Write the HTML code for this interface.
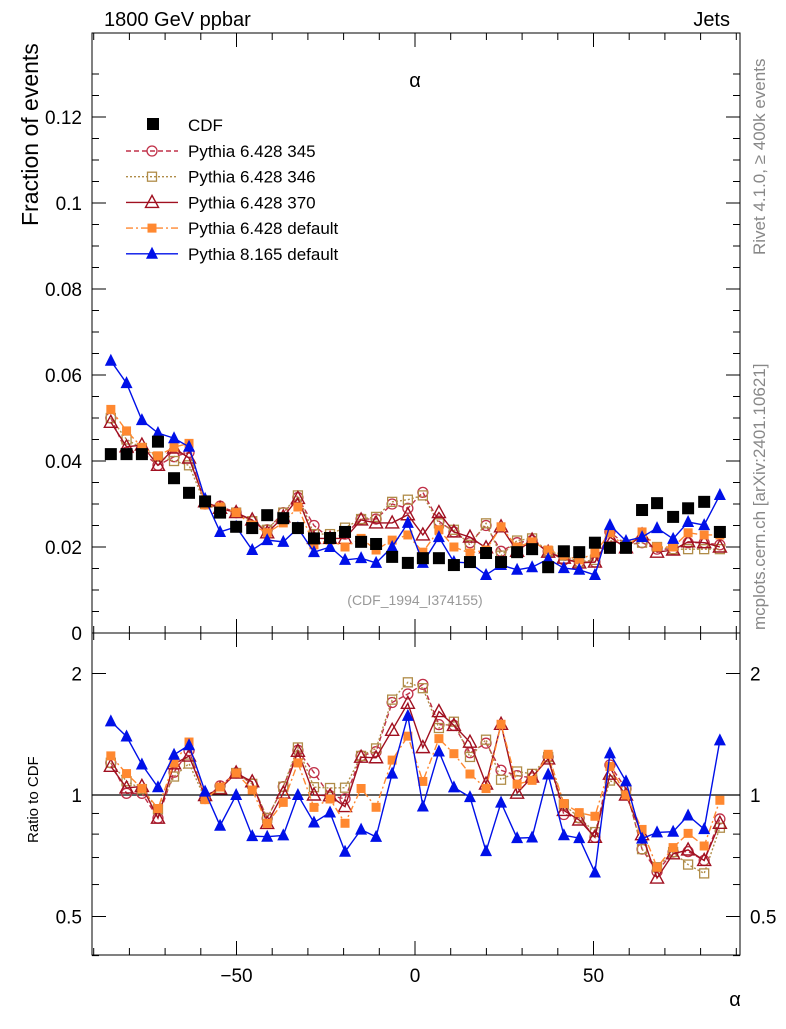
<!DOCTYPE html>
<html><head><meta charset="utf-8"><style>
body{margin:0;background:#fff;}
svg text{font-family:"Liberation Sans",sans-serif;}
</style></head><body>
<svg id="chart" width="786" height="1024" xmlns="http://www.w3.org/2000/svg">
<g id="main"></g>
</svg>
<script>
const alpha = [-85.2,-80.8,-76.5,-72.0,-67.5,-63.3,-58.8,-54.6,-50.1,-45.6,-41.4,-36.9,-32.8,-28.3,-23.8,-19.6,-15.1,-10.9,-6.4,-2.0,2.2,6.7,10.9,15.4,19.9,24.1,28.6,32.8,37.3,41.7,46.0,50.4,54.6,59.1,63.6,67.8,72.3,76.5,81.0,85.4];
const cdf = [0.0416,0.0416,0.0416,0.0445,0.036,0.0326,0.0306,0.028,0.0247,0.0244,0.0274,0.0267,0.0244,0.022,0.0221,0.0235,0.0212,0.0207,0.0177,0.0163,0.0174,0.0174,0.0158,0.0165,0.0186,0.0165,0.0188,0.0195,0.0153,0.019,0.0188,0.021,0.0198,0.0198,0.0286,0.0302,0.027,0.029,0.0305,0.0235];
const py345 = [0.050,0.042,0.042,0.039,0.041,0.042,0.030,0.0295,0.028,0.026,0.024,0.028,0.0315,0.025,0.022,0.023,0.0265,0.0265,0.030,0.029,0.0327,0.026,0.0235,0.021,0.025,0.019,0.021,0.0215,0.019,0.017,0.0165,0.0165,0.0235,0.0205,0.021,0.0195,0.0195,0.021,0.021,0.0205];
const py346 = [0.050,0.045,0.043,0.041,0.040,0.039,0.030,0.029,0.028,0.026,0.024,0.028,0.032,0.023,0.023,0.0245,0.0265,0.027,0.0305,0.031,0.032,0.0255,0.024,0.0205,0.0255,0.018,0.0215,0.022,0.019,0.018,0.0165,0.017,0.0215,0.0205,0.021,0.02,0.0195,0.0195,0.0195,0.0195];
const py370 = [0.049,0.0433,0.0437,0.039,0.043,0.0407,0.0305,0.029,0.028,0.0263,0.0233,0.027,0.0313,0.022,0.022,0.022,0.0263,0.0256,0.0256,0.0275,0.0228,0.028,0.0235,0.0223,0.0198,0.0247,0.019,0.0216,0.0188,0.0174,0.0163,0.0165,0.0223,0.0198,0.0228,0.0188,0.0193,0.0212,0.021,0.020];
const pydef = [0.052,0.047,0.0432,0.0412,0.0432,0.0441,0.0298,0.0293,0.028,0.0251,0.0233,0.0256,0.0293,0.0205,0.0216,0.020,0.022,0.0193,0.0216,0.0228,0.0188,0.024,0.020,0.0186,0.0193,0.0247,0.020,0.0212,0.0193,0.0181,0.017,0.0186,0.0233,0.0198,0.0235,0.020,0.020,0.0233,0.0228,0.0228];
const py8 = [0.0633,0.0581,0.0495,0.0465,0.0453,0.0433,0.0312,0.0235,0.0247,0.0193,0.0216,0.0212,0.0244,0.0188,0.020,0.017,0.0174,0.0163,0.020,0.0256,0.0163,0.0223,0.0165,0.0163,0.0135,0.0158,0.0147,0.0153,0.0172,0.0151,0.0147,0.0135,0.0251,0.0214,0.0223,0.0244,0.0219,0.0258,0.0251,0.0321];
const mainTicks = [0,0.02,0.04,0.06,0.08,0.1,0.12];
const mainTickLabels = ["0","0.02","0.04","0.06","0.08","0.1","0.12"];
const xTicks = [-50,0,50];
const xTickLabels = ["\u221250","0","50"];
const ratioTicks = [0.5,1,2];
const ratioTickLabels = ["0.5","1","2"];

const NS="http://www.w3.org/2000/svg";
const svg=document.getElementById('chart');
const L=92,R=740,T=33,MB=633,RB=955;
const xs=a=>415+a*3.57;
const ym=v=>633-v*4300;
const yr=r=>795-121.5*Math.log2(r);
function mk(tag,attrs,parent){const e=document.createElementNS(NS,tag);for(const k in attrs)e.setAttribute(k,attrs[k]);(parent||svg).appendChild(e);return e;}
function txt(s,x,y,size,anchor,fill,parent,rot){const t=mk('text',{x:x,y:y,'font-size':size,'text-anchor':anchor||'start',fill:fill||'#000'},parent);if(rot)t.setAttribute('transform','rotate(-90 '+x+' '+y+')');t.textContent=s;return t;}

const f1=mk('rect',{x:L,y:T,width:R-L,height:MB-T,fill:'none',stroke:'#000','stroke-width':1});


const f2=mk('rect',{x:L,y:MB,width:R-L,height:RB-MB,fill:'none',stroke:'#000','stroke-width':1});



for(let v=0;v<=0.135;v+=0.005){const y=ym(v);const major=Math.abs(v/0.02-Math.round(v/0.02))<1e-6;const l=major?14:7;
 mk('line',{x1:L,y1:y,x2:L+l,y2:y,stroke:'#000'});mk('line',{x1:R,y1:y,x2:R-l,y2:y,stroke:'#000'});}
mainTicks.forEach((v,i)=>{const t=txt(mainTickLabels[i],82,ym(v)+7,19,'end');
 
 });
for(let a=-90;a<=90;a+=10){const x=xs(a);const major=a%50===0;const l=major?14:7;
 [[T,1],[MB,-1],[MB,1],[RB,-1]].forEach(([y0,d])=>mk('line',{x1:x,y1:y0,x2:x,y2:y0+d*l,stroke:'#000'}));}
xTicks.forEach((a,i)=>{const t=txt(xTickLabels[i],xs(a),982,19,'middle');
 
 });
[0.4,0.5,0.6,0.7,0.8,0.9,1,2].forEach(r=>{const y=yr(r);const l=(r===0.5||r===1||r===2)?14:7;
 mk('line',{x1:L,y1:y,x2:L+l,y2:y,stroke:'#000'});mk('line',{x1:R,y1:y,x2:R-l,y2:y,stroke:'#000'});});
ratioTicks.forEach((r,i)=>{const a=txt(ratioTickLabels[i],82,yr(r)+7,19,'end');
 
 
 const b=txt(ratioTickLabels[i],750,yr(r)+7,19,'start');
 
 });
mk('line',{x1:L,y1:yr(1),x2:R,y2:yr(1),stroke:'#000','stroke-width':1.3});

function marker(kind,x,y,col,g,s){
 s=s||5;
 if(kind==='sq') return mk('rect',{x:x-s,y:y-s,width:2*s,height:2*s,fill:col},g);
 if(kind==='osq') return mk('rect',{x:x-4.5,y:y-4.5,width:9,height:9,fill:'none',stroke:col,'stroke-width':1.3},g);
 if(kind==='oc') return mk('circle',{cx:x,cy:y,r:5,fill:'none',stroke:col,'stroke-width':1.3},g);
 if(kind==='otri') return mk('polygon',{points:`${x},${y-7} ${x-6.5},${y+5} ${x+6.5},${y+5}`,fill:'none',stroke:col,'stroke-width':1.4},g);
 if(kind==='tri') return mk('polygon',{points:`${x},${y-7} ${x-6},${y+5} ${x+6},${y+5}`,fill:col},g);
}
const series=[
 {name:'pythia-6428-345',vals:py345,col:'#c03048',dash:'5,3',m:'oc'},
 {name:'pythia-6428-346',vals:py346,col:'#b08c48',dash:'2,2',m:'osq'},
 {name:'pythia-6428-370',vals:py370,col:'#a01020',dash:'',m:'otri'},
 {name:'pythia-6428-default',vals:pydef,col:'#ff8830',dash:'7,3,2,3',m:'sq'},
 {name:'pythia-8165-default',vals:py8,col:'#0010e8',dash:'',m:'tri'}
];
const clip=mk('clipPath',{id:'rc'});mk('rect',{x:L,y:MB,width:R-L,height:RB-MB},clip);
series.forEach(s=>{
 const g=mk('g',{});
 
 
 const pts=alpha.map((a,i)=>xs(a)+','+ym(s.vals[i])).join(' ');
 mk('polyline',{points:pts,fill:'none',stroke:s.col,'stroke-width':1.4,'stroke-dasharray':s.dash},g);
 alpha.forEach((a,i)=>{const m=marker(s.m,xs(a),ym(s.vals[i]),s.col,g,s.m==='sq'?4.5:5);
  
  });
 const gr=mk('g',{'clip-path':'url(#rc)'});
 
 
 const rp=alpha.map((a,i)=>xs(a)+','+yr(s.vals[i]/cdf[i])).join(' ');
 mk('polyline',{points:rp,fill:'none',stroke:s.col,'stroke-width':1.4,'stroke-dasharray':s.dash},gr);
 alpha.forEach((a,i)=>{const m=marker(s.m,xs(a),yr(s.vals[i]/cdf[i]),s.col,gr,s.m==='sq'?4.5:5);
  
  });
});
const gc=mk('g',{});


alpha.forEach((a,i)=>{const m=marker('sq',xs(a),ym(cdf[i]),'#000',gc,6);
 
 });

const leg=mk('g',{});


marker('sq',153,124,'#000',leg,6);
txt('CDF',188,131,17,'start','#000',leg);
const legNames=['Pythia 6.428 345','Pythia 6.428 346','Pythia 6.428 370','Pythia 6.428 default','Pythia 8.165 default'];
series.forEach((s,i)=>{const y=151+i*25.7;
 const e=mk('g',{},leg);
 
 
 mk('line',{x1:126,y1:y,x2:178,y2:y,stroke:s.col,'stroke-width':1.4,'stroke-dasharray':s.dash},e);
 marker(s.m,152,y,s.col,e,4.5);
 txt(legNames[i],188,y+6,17,'start','#000',e);});

let t;
t=txt('1800 GeV ppbar',104,26,20,'start');
t=txt('Jets',730,26,20,'end');
t=txt('\u03b1',415,87,20,'middle');
t=txt('(CDF_1994_I374155)',415,605,14,'middle','#999');
t=txt('Fraction of events',38,226,23,'start','#000',null,true);
t=txt('Ratio to CDF',38,843,15,'start','#000',null,true);
t=txt('\u03b1',735,1006,20,'middle');
t=txt('Rivet 4.1.0, \u2265 400k events',765,255,17,'start','#888',null,true);
t=txt('mcplots.cern.ch [arXiv:2401.10621]',765,630,17,'start','#888',null,true);
</script>
</body></html>
